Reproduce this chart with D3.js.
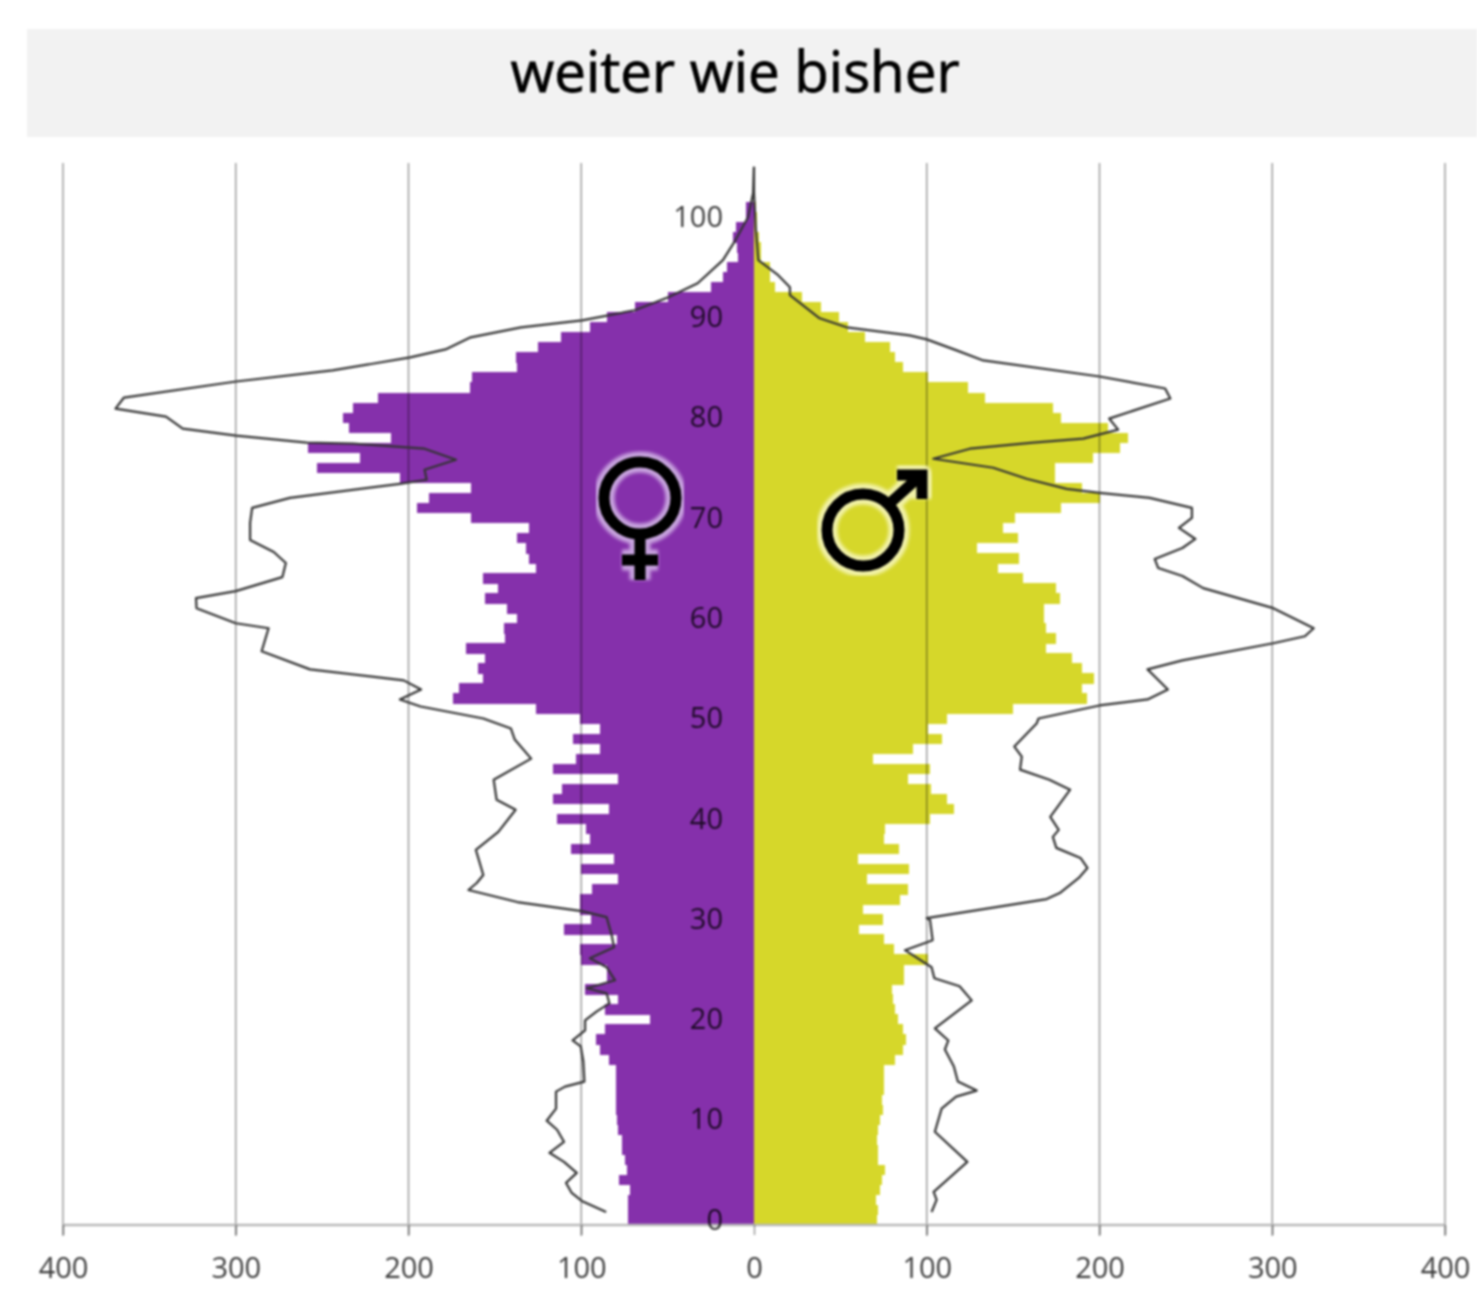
<!DOCTYPE html>
<html lang="de">
  <head>
    <meta charset="utf-8" />
    <title>weiter wie bisher</title>
    <script src="https://cdn.jsdelivr.net/npm/d3@7/dist/d3.min.js"></script>
    <style>
      html, body { margin: 0; background: #fff; }
      svg { display: block; filter: blur(0.8px); }
      text { font-family: "Open Sans", sans-serif; }
      .grid { stroke: #000; stroke-opacity: 0.42; stroke-width: 1.4; }
      .baseline { stroke: #b8b8b8; stroke-width: 2.5; }
      .tick-label { font-size: 29px; fill: #3c3c3c; }
      .age-label { font-size: 29px; fill: #000; fill-opacity: 0.78; }
      .pop-line { fill: none; stroke: #333; stroke-width: 2.2; stroke-linejoin: round; }
    </style>
  </head>
  <body>
    <div id="container"></div>

    <script>
      const title = "weiter wie bisher";
      const xTicks = [-400, -300, -200, -100, 0, 100, 200, 300, 400];
      const ageTicks = [0, 10, 20, 30, 40, 50, 60, 70, 80, 90, 100];

      // bars, index = age 0..101
      const femaleBars = [
        73, 73, 72.7, 72, 78, 73.7, 74.6, 76.6, 76.6, 78.5,
        79.5, 80, 80, 80, 80, 80, 84, 89, 91.6, 86,
        60, 86, 78.5, 98, 85, 85, 100, 100.7, 79.5, 110,
        94.5, 100.7, 100.7, 94, 78.5, 100, 81, 106, 95, 97,
        114, 84, 116.5, 111, 79, 116.5, 103, 89, 105, 89,
        101, 126, 174, 171, 157, 160, 156, 167, 144, 145,
        137, 143, 156, 148, 157, 126, 130, 132, 137, 130,
        164, 195, 188, 164, 205, 253, 228, 258, 210, 234.5,
        238, 232, 217.5, 164.5, 163, 137, 138, 125, 112, 95,
        85, 69, 50, 25, 18, 15.5, 9, 10, 12, 10.7,
        4.6, 4.6
      ];
      const maleBars = [
        71, 72, 70.6, 73, 74, 76, 72, 72, 71.4, 72,
        73, 74.5, 74, 75, 75.4, 75.4, 81.6, 86.4, 88, 86.4,
        83.5, 81.6, 80.6, 80, 87, 87, 101, 81, 75, 61,
        74.5, 63, 84.5, 89, 65.6, 90, 60, 84, 75, 76,
        102, 116, 112, 102.6, 89, 102, 69, 92, 109, 101,
        112, 150, 193, 190, 197, 190, 184, 169, 175, 169,
        168, 168, 177, 175, 155.7, 141.5, 153.5, 129, 153, 144,
        151, 177.5, 200, 190, 174, 174, 196, 212, 216.6, 205,
        178, 173, 134, 124, 101, 86, 81.6, 78.7, 64, 54.6,
        49, 38.6, 27.6, 12, 9, 9, 4, 4, 3, 2,
        2, 1
      ];

      const femaleLineAges = [
        0.8, 1.9, 2.7, 3.7, 4.7, 5.8, 6.7, 7.8, 9, 9.9, 11.1, 12.8, 13.3, 13.8, 15.8, 17.3, 17.9, 18.9, 19.9, 20.8,
        21.6, 22.6, 23.1, 23.9, 25.2, 26.1, 27.2, 28.4, 30.2, 30.8, 31.7, 32.9, 33.6, 34.4, 36.9, 38.7, 40.9, 41.9, 43.9, 46,
        47.9, 49, 50, 51.2, 51.9, 52.9, 53.8, 54.9, 56.7, 59, 59.5, 61, 62, 62.7, 64.1, 65.5, 66.6, 67.8, 69.5, 71,
        72, 73.4, 73.8, 74.8, 75.2, 75.8, 76.9, 77.4, 77.5, 78.2, 78.9, 80.1, 80.9, 82, 83.6, 84.7, 86, 86.8, 88, 89,
        89.7, 90.7, 92, 93.4, 95.7, 97.7, 100, 102.4, 105
      ];
      const femaleLine = [
        85.6, 99.7, 105.5, 108.8, 102.6, 110, 118.4, 110, 114, 120, 114.6, 114.6, 109.4, 98.2, 98.8, 100.3, 105, 97.8, 97.8, 91,
        83.7, 85.3, 96.8, 80.4, 85.3, 95, 81, 82.4, 85.3, 99.7, 137, 165.3, 160.5, 156.7, 161, 148, 138, 149, 150.7, 129,
        138.5, 140.7, 156.7, 193, 205, 192.7, 202.8, 257, 285, 281, 300, 322.7, 323, 300, 273, 271, 278, 291.7, 291.7, 290.5,
        268.6, 205, 189.5, 190.7, 183.5, 172.5, 190.7, 232, 258.9, 299.8, 330.7, 340.4, 369.6, 364.7, 299.8, 244, 199, 178.6, 164, 134.8,
        99.5, 69, 49.6, 32.6, 18, 10.7, 3.4, 0.5, 0
      ];
      const maleLineAges = [
        0.8, 2, 2.8, 5.8, 8.8, 11.1, 12.3, 12.9, 13.8, 15.3, 17, 17.9, 19.1, 21.9, 23.3, 24.1, 25.2, 26.9, 27.9, 29.9,
        30.1, 32, 32.6, 34.1, 35.1, 36.1, 37.1, 38.2, 38.9, 40.2, 42.9, 43.9, 44.9, 46.2, 47.2, 49.5, 50, 51.3, 51.9, 52.9,
        54.9, 55.8, 57.5, 58.2, 59, 61, 63, 64.2, 65, 65.9, 67, 67.9, 69, 70, 71, 72, 72.5, 72.9, 73.9, 75,
        75.9, 76.9, 77.5, 77.9, 78.8, 79.9, 81.9, 82.9, 84.1, 85.7, 86.7, 87.8, 88.2, 89, 89.9, 92.2, 93, 94.2, 95.7, 99,
        102.4, 105
      ];
      const maleLine = [
        102.8, 105.7, 104, 123.5, 104.7, 108.6, 117, 128.9, 118, 115.7, 110.5, 112.5, 104.7, 126, 119, 104.4, 102.8, 87.4, 103.4, 101.9,
        100, 169.4, 177, 188, 193, 189, 175, 173, 176.4, 171.5, 183, 171, 154, 155, 150.7, 163.6, 164.7, 200, 227.8, 239.6,
        227.8, 248, 300.6, 318.9, 324, 300.6, 260, 248, 234, 232, 248, 255.5, 246, 253.5, 253.5, 229, 200, 181, 157.8, 138.5,
        103.8, 125, 161.6, 190.6, 210.8, 205.6, 241, 238, 200, 132.7, 117.3, 100, 90, 53.6, 38, 20.8, 20.8, 14, 2.5, 1,
        0, 0
      ];

      const width = 1477;
      const height = 1291;

      const svg = d3.select("#container").append("svg").attr("width", width).attr("height", height);

      const x = d3.scaleLinear().domain([-400, 400]).range([63, 1445]);
      const y = d3.scaleLinear().domain([0, 100]).range([1220, 217]);

      // title band
      svg.append("rect").attr("x", 27).attr("y", 29).attr("width", width - 27).attr("height", 108).attr("fill", "#f2f2f2");
      svg
        .append("text")
        .attr("x", 735)
        .attr("y", 92)
        .attr("text-anchor", "middle")
        .attr("font-size", 56.5)
        .attr("fill", "#000")
        .attr("stroke", "#000")
        .attr("stroke-width", 0.8)
        .text(title);

      // bars
      const bars = (values, sign, color) =>
        svg
          .append("g")
          .attr("fill", color)
          .attr("shape-rendering", "crispEdges")
          .selectAll("rect")
          .data(values)
          .enter()
          .append("rect")
          .attr("x", (d) => (sign < 0 ? x(-d) : x(0)))
          .attr("width", (d) => Math.abs(x(d) - x(0)))
          .attr("y", (d, i) => y(i + 0.5))
          .attr("height", (d, i) => y(i - 0.5) - y(i + 0.5) + 0.5);

      bars(femaleBars, -1, "#8530ab");
      bars(maleBars, 1, "#d6d72a");

      // grid on top of the bars
      svg
        .append("g")
        .selectAll("line")
        .data(xTicks.filter((d) => d !== 0))
        .enter()
        .append("line")
        .attr("class", "grid")
        .attr("x1", (d) => x(d))
        .attr("x2", (d) => x(d))
        .attr("y1", 163)
        .attr("y2", 1236);

      // x axis
      const xAxis = svg
        .append("g")
        .attr("transform", "translate(0,1225)")
        .call(d3.axisBottom(x).tickValues(xTicks).tickFormat((d) => Math.abs(d)).tickSize(10).tickPadding(22));
      xAxis.select(".domain").attr("class", "baseline").attr("d", `M${x(-400)},0H${x(400)}`);
      xAxis.selectAll("line").attr("class", "grid");
      xAxis.selectAll("text").attr("class", "tick-label");

      // age labels sit on the bars
      const yAxis = svg
        .append("g")
        .attr("transform", "translate(723,0)")
        .call(d3.axisLeft(y).tickValues(ageTicks).tickSize(0).tickPadding(0));
      yAxis.select(".domain").remove();
      yAxis.selectAll("text").attr("class", "age-label");

      // outlines
      const line = d3
        .line()
        .x((d) => x(d[0]))
        .y((d) => y(d[1]));
      svg.append("path").attr("class", "pop-line").attr("d", line(femaleLine.map((d, i) => [-d, femaleLineAges[i]])));
      svg.append("path").attr("class", "pop-line").attr("d", line(maleLine.map((d, i) => [d, maleLineAges[i]])));

      // gender symbols
      const defs = svg.append("defs");
      defs.append("filter").attr("id", "glow").append("feGaussianBlur").attr("stdDeviation", 1.8);

      const venus = (g) => {
        g.append("circle").attr("cx", 640).attr("cy", 498).attr("r", 36);
        g.append("path").attr("d", "M640,534V580M622,560H658");
      };
      const mars = (g) => {
        g.append("circle").attr("cx", 863).attr("cy", 530).attr("r", 36);
        g.append("path").attr("d", "M889,504L920,476M897,475H922V499");
      };
      const symbol = (draw, halo) => {
        draw(svg.append("g").attr("fill", "none").attr("stroke", halo).attr("stroke-width", 21).attr("stroke-linejoin", "round").attr("filter", "url(#glow)"));
        draw(svg.append("g").attr("fill", "none").attr("stroke", "#000").attr("stroke-width", 11));
      };
      symbol(venus, "#c7a3de");
      symbol(mars, "#f2f2a8");
    </script>
  </body>
</html>
